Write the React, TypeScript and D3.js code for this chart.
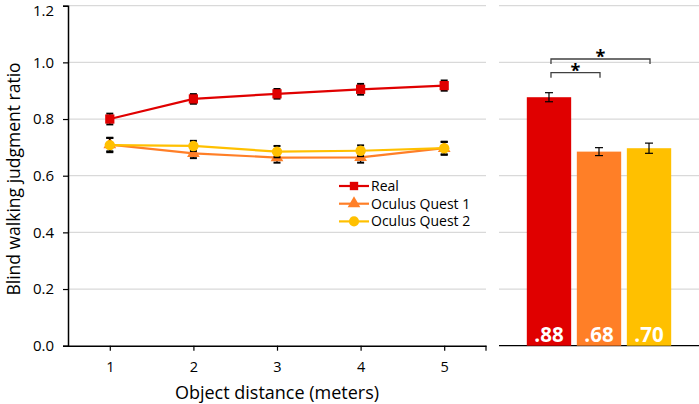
import { useRef, useEffect } from "react";
import * as d3 from "d3";

const distances = [1, 2, 3, 4, 5];
const yTicks = [0, 0.2, 0.4, 0.6, 0.8, 1.0, 1.2];

const seriesNames = ["Real", "Oculus Quest 1", "Oculus Quest 2"];
const seriesColors = ["#E00000", "#FF7F27", "#FFC000"];
const seriesMarkers = ["square", "triangle", "circle"];

const realValues = [0.80, 0.871, 0.889, 0.905, 0.918];
const realErrors = [0.019, 0.017, 0.017, 0.019, 0.018];
const quest1Values = [0.71, 0.679, 0.664, 0.665, 0.697];
const quest1Errors = [0.024, 0.017, 0.018, 0.019, 0.022];
const quest2Values = [0.708, 0.705, 0.685, 0.688, 0.697];
const quest2Errors = [0.025, 0.018, 0.02, 0.019, 0.023];

const meanValues = [0.877, 0.685, 0.697];
const meanErrors = [0.016, 0.014, 0.018];
const meanLabels = [".88", ".68", ".70"];

// significance pairs: [from, to]
const sigPairs: [number, number][] = [
  [0, 2],
  [0, 1],
];

const FONT = "'Open Sans', 'Noto Sans', sans-serif";

function markerType(m: string) {
  if (m === "square") return d3.symbolSquare;
  if (m === "triangle") return d3.symbolTriangle;
  return d3.symbolCircle;
}

export default function App() {
  const svgRef = useRef<SVGSVGElement>(null);

  useEffect(() => {
    if (!svgRef.current) return;
    const svg = d3.select(svgRef.current);
    svg.selectAll("*").remove();

    const width = 699;
    const height = 404;
    svg.attr("viewBox", `0 0 ${width} ${height}`);

    const y = d3.scaleLinear().domain([0, 1.2]).range([345.7, 5.7]);
    const x = d3.scalePoint<number>().domain(distances).range([68, 486]).padding(0.5);
    const xb = d3
      .scaleBand<string>()
      .domain(seriesNames)
      .range([499, 699])
      .paddingInner(0.113)
      .paddingOuter(0.556);

    // Gridlines (left panel)
    svg
      .selectAll(".grid-l")
      .data(yTicks.slice(1))
      .join("line")
      .attr("x1", 68)
      .attr("x2", 486)
      .attr("y1", (d) => y(d))
      .attr("y2", (d) => y(d))
      .attr("stroke", "#d9d9d9")
      .attr("stroke-width", 1.2);

    // Gridlines (right panel)
    svg
      .selectAll(".grid-r")
      .data(yTicks.slice(1))
      .join("line")
      .attr("x1", 499)
      .attr("x2", 699)
      .attr("y1", (d) => y(d))
      .attr("y2", (d) => y(d))
      .attr("stroke", "#d9d9d9")
      .attr("stroke-width", 1.2);

    // Left y axis
    const yAxis = svg
      .append("g")
      .attr("transform", "translate(68,0)")
      .call(d3.axisLeft(y).tickValues(yTicks).tickSize(5).tickFormat(d3.format(".1f")));
    yAxis.select(".domain").attr("stroke", "#000").attr("stroke-width", 1.5);
    yAxis.selectAll(".tick line").attr("stroke", "#000").attr("stroke-width", 1.2);
    yAxis
      .selectAll<SVGTextElement, number>(".tick text")
      .attr("font-family", FONT)
      .attr("font-size", "15px")
      .attr("fill", "#000")
      .attr("x", -14)
      // keep the top label inside the picture
      .attr("y", (d) => (d === 1.2 ? 5 : 0));

    // Bottom x axis
    const xAxis = svg
      .append("g")
      .attr("transform", `translate(0,${y(0)})`)
      .call(d3.axisBottom(x).tickSizeOuter(0).tickSizeInner(5));
    xAxis.select(".domain").attr("stroke", "#000").attr("stroke-width", 1.5);
    xAxis.selectAll(".tick line").attr("stroke", "#000").attr("stroke-width", 1.2);
    xAxis
      .selectAll(".tick text")
      .attr("font-family", FONT)
      .attr("font-size", "14.5px")
      .attr("fill", "#000")
      .attr("y", 16)
      .attr("dy", "0.71em");
    svg
      .append("line")
      .attr("x1", 486)
      .attr("x2", 486)
      .attr("y1", y(0))
      .attr("y2", y(0) + 5)
      .attr("stroke", "#000")
      .attr("stroke-width", 1.2);

    // Axis titles
    svg
      .append("text")
      .attr("x", 277)
      .attr("y", 399)
      .attr("text-anchor", "middle")
      .attr("font-family", FONT)
      .attr("font-size", "18px")
      .attr("fill", "#000")
      .text("Object distance (meters)");
    svg
      .append("text")
      .attr("transform", "rotate(-90)")
      .attr("x", -179)
      .attr("y", 19.5)
      .attr("text-anchor", "middle")
      .attr("font-family", FONT)
      .attr("font-size", "17.5px")
      .attr("fill", "#000")
      .text("Blind walking judgment ratio");

    // Line series
    const allValues = [realValues, quest1Values, quest2Values];
    const allErrors = [realErrors, quest1Errors, quest2Errors];
    const line = d3
      .line<number>()
      .x((_, i) => x(distances[i]) as number)
      .y((d) => y(d));

    // draw in order: quest1, quest2, real (real on top)
    [1, 2, 0].forEach((s) => {
      const vals = allValues[s];
      const errs = allErrors[s];
      const color = seriesColors[s];
      const g = svg.append("g");

      g.append("path")
        .datum(vals)
        .attr("d", line)
        .attr("fill", "none")
        .attr("stroke", color)
        .attr("stroke-width", 2.2);

      // error bars
      vals.forEach((v, i) => {
        const cx = x(distances[i]) as number;
        g.append("line")
          .attr("x1", cx)
          .attr("x2", cx)
          .attr("y1", y(v - errs[i]))
          .attr("y2", y(v + errs[i]))
          .attr("stroke", "#000")
          .attr("stroke-width", 1.3);
        [v - errs[i], v + errs[i]].forEach((e) => {
          g.append("line")
            .attr("x1", cx - 3.5)
            .attr("x2", cx + 3.5)
            .attr("y1", y(e))
            .attr("y2", y(e))
            .attr("stroke", "#000")
            .attr("stroke-width", 2);
        });
      });

      // markers
      const size = seriesMarkers[s] === "triangle" ? 70 : 85;
      g.selectAll(".marker")
        .data(vals)
        .join("path")
        .attr("d", d3.symbol().type(markerType(seriesMarkers[s])).size(size)())
        .attr("transform", (d, i) => `translate(${x(distances[i])},${y(d)})`)
        .attr("fill", color);
    });

    // Legend
    const legend = svg.append("g").attr("transform", "translate(339,186)");
    seriesNames.forEach((name, i) => {
      const ly = i * 17.7;
      legend
        .append("line")
        .attr("x1", 0)
        .attr("x2", 30)
        .attr("y1", ly)
        .attr("y2", ly)
        .attr("stroke", seriesColors[i])
        .attr("stroke-width", 2.2);
      legend
        .append("path")
        .attr("d", d3.symbol().type(markerType(seriesMarkers[i])).size(seriesMarkers[i] === "circle" ? 80 : 70)())
        .attr("transform", `translate(15,${ly})`)
        .attr("fill", seriesColors[i]);
      legend
        .append("text")
        .attr("x", 32)
        .attr("y", ly)
        .attr("dy", "0.36em")
        .attr("font-family", FONT)
        .attr("font-size", "14px")
        .attr("fill", "#000")
        .text(name);
    });

    // Right panel baseline
    svg
      .append("line")
      .attr("x1", 499)
      .attr("x2", 699)
      .attr("y1", y(0))
      .attr("y2", y(0))
      .attr("stroke", "#000")
      .attr("stroke-width", 1.3);

    // Bars
    svg
      .selectAll(".bar")
      .data(meanValues)
      .join("rect")
      .attr("x", (_, i) => xb(seriesNames[i]) as number)
      .attr("width", xb.bandwidth())
      .attr("y", (d) => y(d))
      .attr("height", (d) => y(0) - y(d))
      .attr("fill", (_, i) => seriesColors[i]);

    // Bar error bars
    meanValues.forEach((v, i) => {
      const cx = (xb(seriesNames[i]) as number) + xb.bandwidth() / 2;
      svg
        .append("line")
        .attr("x1", cx)
        .attr("x2", cx)
        .attr("y1", y(v - meanErrors[i]))
        .attr("y2", y(v + meanErrors[i]))
        .attr("stroke", "#000")
        .attr("stroke-width", 1.2);
      [v - meanErrors[i], v + meanErrors[i]].forEach((e) => {
        svg
          .append("line")
          .attr("x1", cx - 4)
          .attr("x2", cx + 4)
          .attr("y1", y(e))
          .attr("y2", y(e))
          .attr("stroke", "#000")
          .attr("stroke-width", 1.2);
      });
    });

    // Bar labels
    svg
      .selectAll(".bar-label")
      .data(meanLabels)
      .join("text")
      .attr("x", (_, i) => (xb(seriesNames[i]) as number) + xb.bandwidth() / 2)
      .attr("y", y(0) - 4)
      .attr("text-anchor", "middle")
      .attr("font-family", FONT)
      .attr("font-size", "20.5px")
      .attr("font-weight", "700")
      .attr("fill", "#fff")
      .text((d) => d);

    // Significance brackets
    sigPairs.forEach(([a, b], k) => {
      const xa = (xb(seriesNames[a]) as number) + xb.bandwidth() / 2 + 2;
      const xe = (xb(seriesNames[b]) as number) + xb.bandwidth() / 2 + 1;
      const top = 59 + k * 13.7;
      svg
        .append("path")
        .attr("d", `M${xa},${top + 5}V${top}H${xe}V${top + 5}`)
        .attr("fill", "none")
        .attr("stroke", "#404040")
        .attr("stroke-width", 1.3);
      svg
        .append("text")
        .attr("x", (xa + xe) / 2)
        .attr("y", top + 4)
        .attr("text-anchor", "middle")
        .attr("font-family", FONT)
        .attr("font-size", "18px")
        .attr("font-weight", "700")
        .attr("fill", "#000")
        .text("*");
    });
  }, []);

  return (
    <div style={{ position: "absolute", left: 0, top: 0, width: 699, height: 404 }}>
      <svg ref={svgRef} width={699} height={404} style={{ display: "block", background: "#fff" }} />
    </div>
  );
}
